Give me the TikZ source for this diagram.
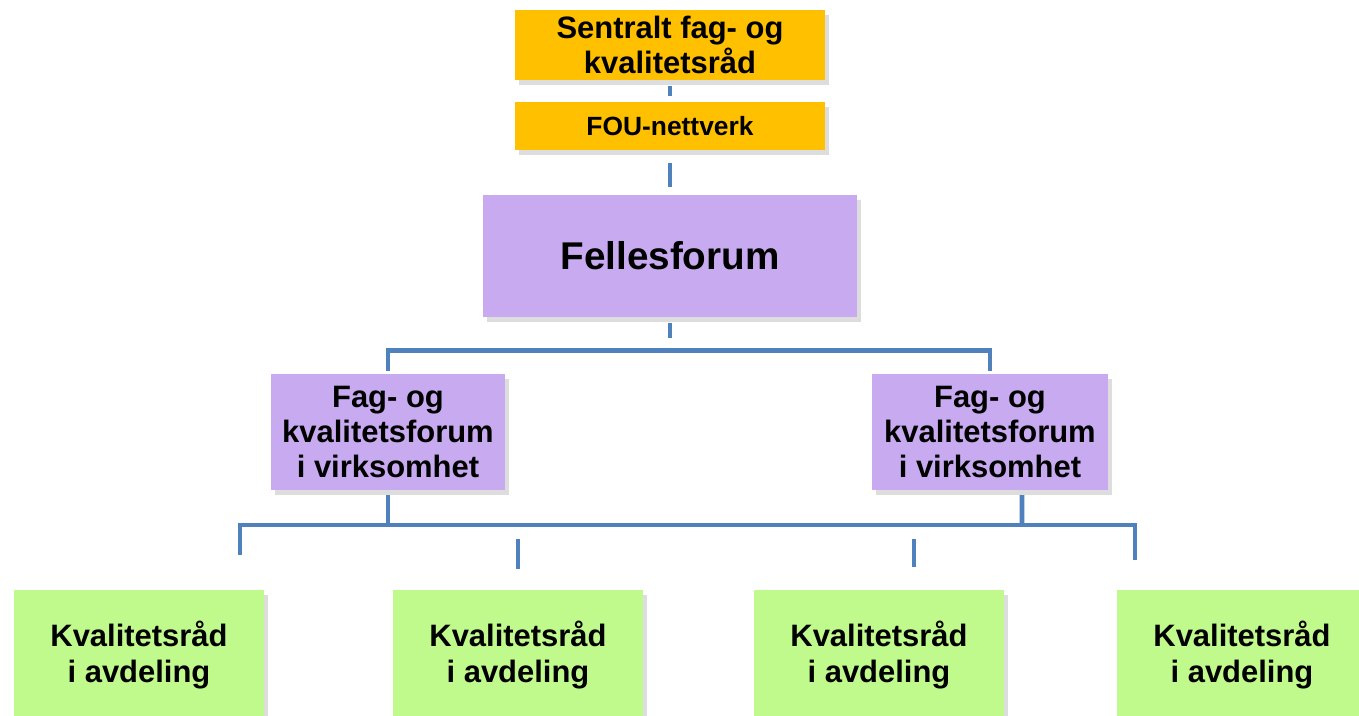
\documentclass[tikz,border=0pt]{standalone}
\usepackage{fontspec}
\setmainfont{Liberation Sans}
\definecolor{raadorange}{RGB}{255, 192, 0}
\definecolor{forumlilla}{RGB}{200, 170, 240}
\definecolor{avdgreen}{RGB}{192, 250, 140}
\definecolor{linjeblue}{RGB}{79, 129, 189}
\usetikzlibrary{shadows, calc}

\begin{document}
\begin{tikzpicture}[x=0.01cm, y=-0.01cm,
  box/.style={inner sep=0pt, align=center, font=\bfseries\fontsize{8.8}{10}\selectfont,
    drop shadow={shadow xshift=0.04cm, shadow yshift=-0.05cm, opacity=0.22, fill=black!60}},
  conn/.style={draw=linjeblue, line width=1.4pt}]
  \useasboundingbox (0,0) rectangle (1359,716);
  \fill[white] (0,0) rectangle (1359,716);
  \clip (0,0) rectangle (1359,716);

  % Top: central council and FOU network
  \node[box, fill=raadorange, minimum width=3.1cm, minimum height=0.7cm] (sentral) at (670,45)
    {Sentralt fag- og\\kvalitetsråd};
  \node[box, fill=raadorange, minimum width=3.1cm, minimum height=0.48cm,
    font=\bfseries\fontsize{7.5}{9}\selectfont] (fou) at (670,126) {FOU-nettverk};

  % Joint forum
  \node[box, fill=forumlilla, minimum width=3.74cm, minimum height=1.22cm,
    font=\bfseries\fontsize{11}{13}\selectfont] (felles) at (670,256) {Fellesforum};

  % Forums in each business
  \node[box, fill=forumlilla, minimum width=2.33cm, minimum height=1.15cm] (fagv) at (388,432)
    {Fag- og\\kvalitetsforum\\i virksomhet};
  \node[box, fill=forumlilla, minimum width=2.35cm, minimum height=1.15cm] (fagh) at (990,432)
    {Fag- og\\kvalitetsforum\\i virksomhet};

  % Councils in each department
  \foreach \n/\x in {1/139, 2/518, 3/879, 4/1242}
    \node[box, fill=avdgreen, minimum width=2.5cm, minimum height=1.3cm] (kv\n) at (\x,655)
      {Kvalitetsråd\\i avdeling};

  % Connectors
  \draw[conn] ([yshift=-0.05cm]sentral.south) -- ([yshift=0.05cm]fou.north);
  \draw[conn] ([yshift=-0.12cm]fou.south) -- ([yshift=0.07cm]felles.north);
  \draw[conn] ([yshift=-0.05cm]felles.south) -- ++(0,15);
  \draw[conn] ([yshift=0.03cm]fagv.north) -- ++(0,-20) -| ([yshift=0.03cm]fagh.north);

  \coordinate (bar) at (240,525);
  \coordinate (t1) at (240,555);
  \coordinate (t4) at (1135,560);
  \draw[conn] ([yshift=-0.05cm]fagv.south) -- (fagv.south |- bar);
  \draw[conn] ([xshift=0.32cm, yshift=-0.05cm]fagh.south) -- ($(fagh.south |- bar)+(32,0)$);
  \draw[conn] (t1) -- (t1 |- bar) -- (t4 |- bar) -- (t4);
  \draw[conn] ([yshift=0.2cm]kv2.north) -- ++(0,-30);
  \draw[conn] ($(kv3.north)+(35,-50)$) -- ++(0,28);
\end{tikzpicture}
\end{document}
